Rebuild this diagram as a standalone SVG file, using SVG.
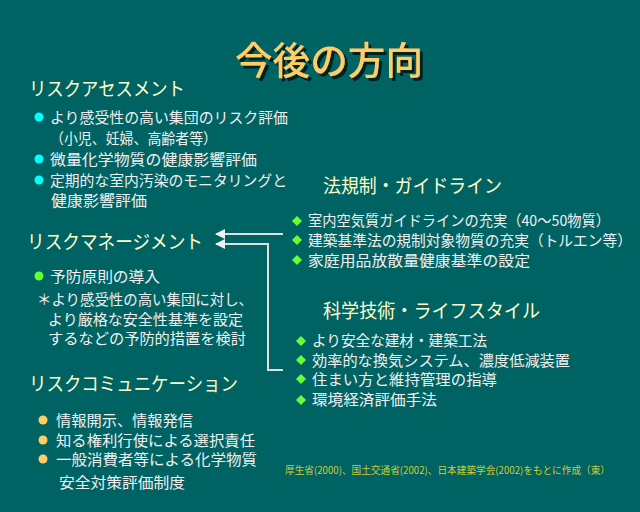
<svg xmlns="http://www.w3.org/2000/svg" width="640" height="512" viewBox="0 0 640 512">
<defs>
<style>
text{font-family:"Noto Sans CJK JP","Noto Sans CJK SC",sans-serif;}
.title{font-size:38px;fill:#FFCC66;font-weight:500;}
.head{font-size:19px;fill:#FFFFCC;}
.body{font-size:15px;fill:#F0F0F0;}
.note{font-size:10px;fill:#CCCC33;}
.conn{stroke:#E0E0E0;stroke-width:2;fill:none;}
.b1{fill:#00FFFF;}
.b2{fill:#66FF33;}
.b3{fill:#FFCC66;}
</style>
<filter id="sh" x="-10%" y="-20%" width="130%" height="150%">
<feDropShadow dx="3" dy="3" stdDeviation="0" flood-color="#002020" flood-opacity="1"/>
</filter>
<marker id="arr" markerWidth="10" markerHeight="10" refX="9" refY="5" orient="auto" markerUnits="userSpaceOnUse">
<path d="M0,0 L10,5 L0,10 Z" fill="#F0F0F0"/>
</marker>
<path id="dia" d="M0,-5 L5,0 L0,5 L-5,0 Z" class="b2"/>
</defs>
<rect width="640" height="512" fill="#006363"/>

<g id="title">
<text class="title" x="235" y="74" textLength="188" lengthAdjust="spacingAndGlyphs" filter="url(#sh)">今後の方向</text>
</g>

<g id="risk-assessment">
<text class="head" x="29" y="96" textLength="156" lengthAdjust="spacingAndGlyphs">リスクアセスメント</text>
<circle class="b1" cx="39" cy="117" r="4.5"/>
<text class="body" x="50" y="123" textLength="238" lengthAdjust="spacingAndGlyphs">より感受性の高い集団のリスク評価</text>
<text class="body" x="50" y="144" textLength="167" lengthAdjust="spacingAndGlyphs">（小児、妊婦、高齢者等）</text>
<circle class="b1" cx="39" cy="159" r="4.5"/>
<text class="body" x="50" y="165" textLength="207" lengthAdjust="spacingAndGlyphs">微量化学物質の健康影響評価</text>
<circle class="b1" cx="39" cy="180" r="4.5"/>
<text class="body" x="50" y="186" textLength="237" lengthAdjust="spacingAndGlyphs">定期的な室内汚染のモニタリングと</text>
<text class="body" x="51" y="206" textLength="96" lengthAdjust="spacingAndGlyphs">健康影響評価</text>
</g>

<g id="risk-management">
<text class="head" x="27" y="249" textLength="176" lengthAdjust="spacingAndGlyphs">リスクマネージメント</text>
<circle class="b2" cx="39" cy="276" r="4.5"/>
<text class="body" x="50" y="282" textLength="110" lengthAdjust="spacingAndGlyphs">予防原則の導入</text>
<text class="body" x="37" y="305" textLength="216" lengthAdjust="spacingAndGlyphs">＊より感受性の高い集団に対し、</text>
<text class="body" x="48" y="325" textLength="195" lengthAdjust="spacingAndGlyphs">より厳格な安全性基準を設定</text>
<text class="body" x="48" y="344" textLength="198" lengthAdjust="spacingAndGlyphs">するなどの予防的措置を検討</text>
</g>

<g id="risk-communication">
<text class="head" x="29" y="391" textLength="209" lengthAdjust="spacingAndGlyphs">リスクコミュニケーション</text>
<circle class="b3" cx="43" cy="420" r="4.5"/>
<text class="body" x="56" y="426" textLength="137" lengthAdjust="spacingAndGlyphs">情報開示、情報発信</text>
<circle class="b3" cx="43" cy="440" r="4.5"/>
<text class="body" x="56" y="446" textLength="199" lengthAdjust="spacingAndGlyphs">知る権利行使による選択責任</text>
<circle class="b3" cx="43" cy="459" r="4.5"/>
<text class="body" x="56" y="465" textLength="201" lengthAdjust="spacingAndGlyphs">一般消費者等による化学物質</text>
<text class="body" x="59" y="488" textLength="126" lengthAdjust="spacingAndGlyphs">安全対策評価制度</text>
</g>

<g id="regulation">
<text class="head" x="323" y="193" textLength="179" lengthAdjust="spacingAndGlyphs">法規制・ガイドライン</text>
<use href="#dia" x="297" y="221"/>
<text class="body" x="308" y="226" textLength="302" lengthAdjust="spacingAndGlyphs">室内空気質ガイドラインの充実（40～50物質）</text>
<use href="#dia" x="297" y="240"/>
<text class="body" x="308" y="246" textLength="324" lengthAdjust="spacingAndGlyphs">建築基準法の規制対象物質の充実（トルエン等）</text>
<use href="#dia" x="297" y="260"/>
<text class="body" x="308" y="266" textLength="222" lengthAdjust="spacingAndGlyphs">家庭用品放散量健康基準の設定</text>
</g>

<g id="technology">
<text class="head" x="323" y="318" textLength="217" lengthAdjust="spacingAndGlyphs">科学技術・ライフスタイル</text>
<use href="#dia" x="301" y="341"/>
<text class="body" x="312" y="346" textLength="175" lengthAdjust="spacingAndGlyphs">より安全な建材・建築工法</text>
<use href="#dia" x="301" y="360"/>
<text class="body" x="312" y="366" textLength="258" lengthAdjust="spacingAndGlyphs">効率的な換気システム、濃度低減装置</text>
<use href="#dia" x="301" y="379"/>
<text class="body" x="312" y="385" textLength="185" lengthAdjust="spacingAndGlyphs">住まい方と維持管理の指導</text>
<use href="#dia" x="301" y="400"/>
<text class="body" x="312" y="405" textLength="125" lengthAdjust="spacingAndGlyphs">環境経済評価手法</text>
</g>

<g id="connectors">
<path class="conn" d="M283,234 L216,234" marker-end="url(#arr)"/>
<path class="conn" d="M283,370 L268,370 L268,244 L216,244" marker-end="url(#arr)"/>
</g>

<g id="footnote">
<text class="note" x="285" y="474" textLength="325" lengthAdjust="spacingAndGlyphs">厚生省(2000)、国土交通省(2002)、日本建築学会(2002)をもとに作成（東）</text>
</g>
</svg>
